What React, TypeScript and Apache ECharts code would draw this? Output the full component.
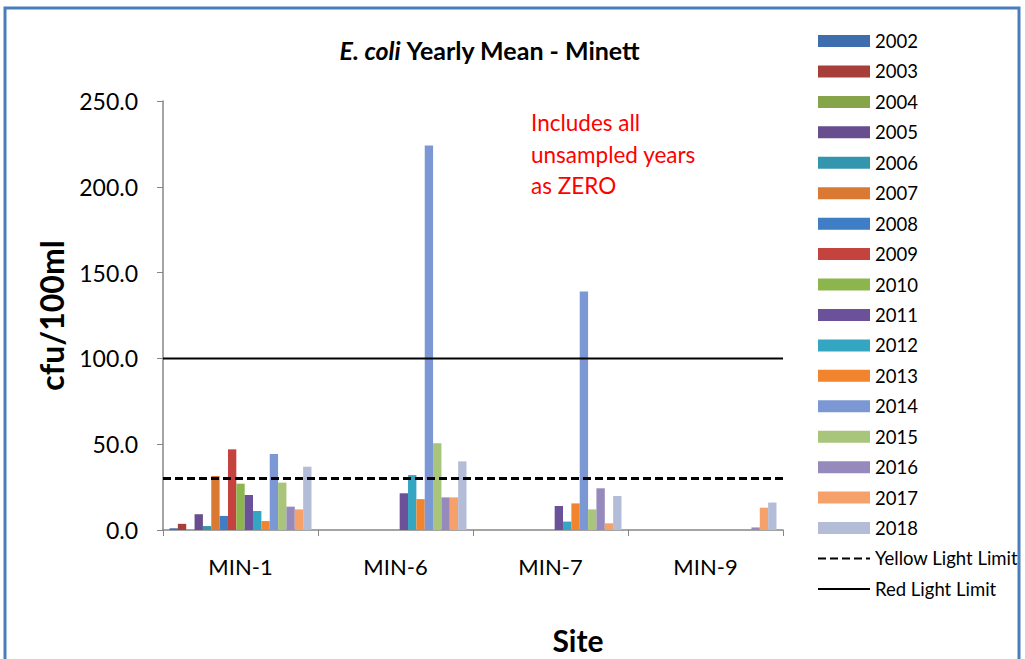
import React, { useEffect, useRef } from "react";
import * as echarts from "echarts";

const sites = ["MIN-1", "MIN-6", "MIN-7", "MIN-9"];
const years = ["2002","2003","2004","2005","2006","2007","2008","2009","2010","2011","2012","2013","2014","2015","2016","2017","2018"];
const colors = ["#3F6EAE","#A83E3A","#86A44A","#684D8F","#3396AE","#DA7A32","#3F7DC4","#C4433F","#8DB54D","#6B509A","#35A6C2","#F2842D","#7B98D5","#A9C47B","#9689BC","#F6A169","#B3BDD8"];
const v2002 = [1.0, 0, 0, 0];
const v2003 = [3.6, 0, 0, 0];
const v2004 = [0, 0, 0, 0];
const v2005 = [9.2, 0, 0, 0];
const v2006 = [2.3, 0, 0, 0];
const v2007 = [31.5, 0, 0, 0];
const v2008 = [8.2, 0, 0, 0];
const v2009 = [47, 0, 0, 0];
const v2010 = [27, 0, 0, 0];
const v2011 = [20.4, 21.4, 14, 0];
const v2012 = [11, 32, 4.9, 0];
const v2013 = [5.2, 18, 15.5, 0];
const v2014 = [44.3, 224, 139, 0];
const v2015 = [27.6, 50.5, 12, 0];
const v2016 = [13.6, 19, 24.3, 1.5];
const v2017 = [12, 19, 3.9, 13];
const v2018 = [36.9, 40, 19.8, 16];
const seriesValues = [v2002,v2003,v2004,v2005,v2006,v2007,v2008,v2009,v2010,v2011,v2012,v2013,v2014,v2015,v2016,v2017,v2018];
const yellowLimit = 30;
const redLimit = 100;
const yTicks = [0, 50, 100, 150, 200, 250];
const noteLines = ["Includes all", "unsampled years", "as ZERO"];

const FONT = "Lato, 'Open Sans', sans-serif";

export default function App() {
  const ref = useRef<HTMLDivElement>(null);
  useEffect(() => {
    document.body.style.margin = "0";
    const chart = echarts.init(ref.current!, null, { renderer: "svg" });
    const barSeries = years.map((y, i) => ({
      name: y,
      type: "bar",
      data: seriesValues[i],
      itemStyle: { color: colors[i] },
      barGap: "0%",
      barCategoryGap: "8.4%",
    }));
    const lineSeries = [
      {
        name: "Yellow Light Limit",
        type: "line",
        xAxisIndex: 1,
        symbol: "none",
        data: [[0, yellowLimit], [1, yellowLimit]],
        lineStyle: { color: "#000", width: 3, type: [8, 4] },
        itemStyle: { color: "transparent", opacity: 0 },
        z: 5,
      },
      {
        name: "Red Light Limit",
        type: "line",
        xAxisIndex: 1,
        symbol: "none",
        data: [[0, redLimit], [1, redLimit]],
        lineStyle: { color: "#000", width: 2, type: "solid" },
        itemStyle: { color: "transparent", opacity: 0 },
        z: 5,
      },
    ];
    chart.setOption({
      animation: false,
      textStyle: { fontFamily: FONT },
      title: {
        text: "{i|E. coli}{b| Yearly Mean - Minett}",
        left: 485,
        top: 32,
        textAlign: "center",
        textStyle: {
          rich: {
            i: { fontFamily: FONT, fontSize: 25, fontWeight: "bold", fontStyle: "italic", color: "#000" },
            b: { fontFamily: FONT, fontSize: 25, fontWeight: "bold", color: "#000" },
          },
        },
      },
      legend: {
        orient: "vertical",
        left: 812,
        top: 26,
        itemWidth: 52,
        itemHeight: 12,
        itemGap: 10.44,
        textStyle: { fontFamily: FONT, fontSize: 18.5, color: "#000", lineHeight: 20 },
        data: [
          ...years.map((y) => ({ name: y, icon: "rect" })),
          { name: "Yellow Light Limit", itemStyle: { color: "transparent", opacity: 0 } },
          { name: "Red Light Limit", itemStyle: { color: "transparent", opacity: 0 } },
        ],
      },
      grid: { left: 163, right: 242, top: 101, bottom: 129 },
      xAxis: [
        {
          type: "category",
          data: sites,
          axisLine: { lineStyle: { color: "#868686", width: 1.5 } },
          axisTick: { show: true, length: 6, lineStyle: { color: "#868686" } },
          axisLabel: { fontFamily: FONT, fontSize: 22, color: "#000", margin: 25 },
        },
        { type: "value", min: 0, max: 1, show: false },
      ],
      yAxis: {
        type: "value",
        min: 0,
        max: 250,
        interval: 50,
        axisLine: { show: true, lineStyle: { color: "#868686", width: 1.5 } },
        axisTick: { show: true, length: 6, lineStyle: { color: "#868686" } },
        splitLine: { show: false },
        axisLabel: {
          fontFamily: FONT,
          fontSize: 23,
          color: "#000",
          margin: 25,
          formatter: (v: number) => (yTicks.includes(v) ? v.toFixed(1) : ""),
        },
        name: "cfu/100ml",
        nameLocation: "middle",
        nameGap: 96,
        nameTextStyle: { fontFamily: FONT, fontSize: 32, fontWeight: "bold", color: "#000" },
      },
      graphic: [
        {
          type: "rect",
          shape: { x: 5, y: 8, width: 1014, height: 700 },
          style: { fill: "none", stroke: "#4A7EBB", lineWidth: 3 },
          silent: true,
        },
        {
          type: "text",
          x: 578,
          y: 640,
          style: {
            text: "Site",
            fill: "#000",
            fontFamily: FONT,
            fontSize: 30,
            fontWeight: "bold",
            align: "center",
            verticalAlign: "middle",
          },
        },
        ...noteLines.map((t, i) => ({
          type: "text",
          left: 531,
          top: 111 + i * 31.5,
          style: { text: t, fill: "#FF0000", fontFamily: FONT, fontSize: 22.5 },
        })),
      ],
      series: [...barSeries, ...lineSeries],
    });
    return () => chart.dispose();
  }, []);
  return <div ref={ref} style={{ width: 1025, height: 659 }} />;
}
